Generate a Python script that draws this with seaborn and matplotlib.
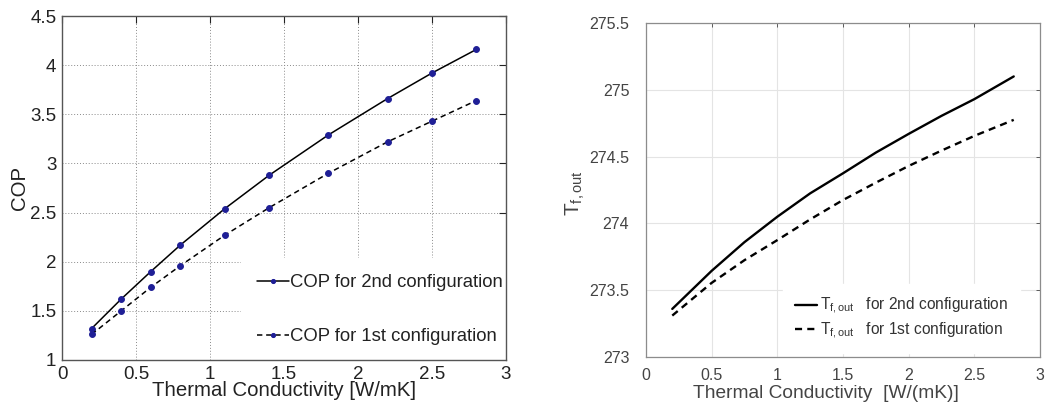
import matplotlib
matplotlib.use("Agg")
import matplotlib.pyplot as plt
import seaborn as sns
import numpy as np
import pandas as pd
from matplotlib.ticker import FormatStrFormatter

# ---------------- data ----------------
cop_k = [0.2, 0.4, 0.6, 0.8, 1.1, 1.4, 1.8, 2.2, 2.5, 2.8]
cop_2nd = [1.32, 1.62, 1.90, 2.17, 2.54, 2.88, 3.29, 3.66, 3.92, 4.16]
cop_1st = [1.26, 1.50, 1.74, 1.96, 2.27, 2.55, 2.90, 3.22, 3.43, 3.64]

tf_k = [0.2, 0.5, 0.75, 1.0, 1.25, 1.5, 1.75, 2.0, 2.25, 2.5, 2.8]
tf_2nd = [273.36, 273.645, 273.86, 274.05, 274.225, 274.375, 274.53, 274.67, 274.805, 274.93, 275.10]
tf_1st = [273.31, 273.555, 273.725, 273.875, 274.03, 274.175, 274.305, 274.43, 274.545, 274.655, 274.775]

x_ticks = [0, 0.5, 1, 1.5, 2, 2.5, 3]
cop_ticks = [1, 1.5, 2, 2.5, 3, 3.5, 4, 4.5]
tf_ticks = [273, 273.5, 274, 274.5, 275, 275.5]

labels_cop = ["COP for 2nd configuration", "COP for 1st configuration"]
labels_tf = [r"$T_{f,out}$   for 2nd configuration", r"$T_{f,out}$   for 1st configuration"]
xlabel_left = "Thermal Conductivity [W/mK]"
xlabel_right = "Thermal Conductivity  [W/(mK)]"
ylabel_left = "COP"
ylabel_right = r"$T_{f,out}$"

# ---------------- style ----------------
sns.set_style("white")
plt.rcParams["font.family"] = ["Liberation Sans", "DejaVu Sans"]
plt.rcParams["mathtext.fontset"] = "custom"
plt.rcParams["mathtext.rm"] = "Liberation Sans"
plt.rcParams["mathtext.it"] = "Liberation Sans"
plt.rcParams["mathtext.default"] = "regular"

fig = plt.figure(figsize=(10.5, 4.12), dpi=100)
ax1 = fig.add_axes([62 / 1050, 1 - 360 / 412, (506 - 62) / 1050, (360 - 16) / 412])
ax2 = fig.add_axes([646 / 1050, 1 - 357 / 412, (1040 - 646) / 1050, (357 - 23) / 412])

# ---------------- left panel ----------------
mk = "#1f1f96"
sns.lineplot(x=cop_k, y=cop_2nd, ax=ax1, color="black", lw=1.1, marker="o",
             markersize=4.2, markerfacecolor=mk, markeredgecolor=mk, label=labels_cop[0])
sns.lineplot(x=cop_k, y=cop_1st, ax=ax1, color="black", lw=1.1, linestyle=(0, (3.5, 2.5)),
             marker="o", markersize=4.2, markerfacecolor=mk, markeredgecolor=mk, label=labels_cop[1])
ax1.set_xlim(0, 3)
ax1.set_ylim(1, 4.5)
ax1.set_xticks(x_ticks)
ax1.set_yticks(cop_ticks)
ax1.xaxis.set_major_formatter(FormatStrFormatter("%g"))
ax1.yaxis.set_major_formatter(FormatStrFormatter("%g"))
ax1.grid(True, linestyle=(0, (1, 2)), color="#8a8a8a", lw=0.7)
ax1.tick_params(direction="in", length=5, width=0.8, labelsize=13.5, colors="#222222",
                top=True, right=True, pad=4)
for s in ax1.spines.values():
    s.set_color("#555555")
    s.set_linewidth(1.0)
    s.set_zorder(3)
ax1.set_xlabel(xlabel_left, fontsize=14.7, color="#222222", labelpad=-1)
ax1.set_ylabel(ylabel_left, fontsize=14.7, color="#222222", labelpad=1)
leg1 = ax1.legend(loc="lower right", bbox_to_anchor=(1.029, -0.006), frameon=True,
                  fontsize=13.3, handlelength=1.7, handletextpad=0.05, labelspacing=2.0,
                  borderpad=0.9, borderaxespad=0.0, markerscale=0.7)
leg1.set_zorder(2.2)
leg1.get_frame().set_facecolor("white")
leg1.get_frame().set_edgecolor("white")
leg1.get_frame().set_alpha(1)
for t in leg1.get_texts():
    t.set_color("#222222")

# ---------------- right panel ----------------
sns.lineplot(x=tf_k, y=tf_2nd, ax=ax2, color="black", lw=1.7, label=labels_tf[0])
sns.lineplot(x=tf_k, y=tf_1st, ax=ax2, color="black", lw=1.7, linestyle=(0, (3.0, 2.2)),
             label=labels_tf[1])
ax2.set_xlim(0, 3)
ax2.set_ylim(273, 275.5)
ax2.set_xticks(x_ticks)
ax2.set_yticks(tf_ticks)
ax2.xaxis.set_major_formatter(FormatStrFormatter("%g"))
ax2.yaxis.set_major_formatter(FormatStrFormatter("%g"))
ax2.grid(True, linestyle="-", color="#e4e4e4", lw=0.8)
ax2.tick_params(direction="in", length=3, width=0.6, labelsize=11.5, colors="#444444",
                top=True, right=True)
ax2.tick_params(axis="y", pad=12)
ax2.tick_params(axis="x", pad=8)
for s in ax2.spines.values():
    s.set_color("#8c8c8c")
    s.set_linewidth(0.9)
    s.set_zorder(3)
ax2.set_xlabel(xlabel_right, fontsize=13.8, color="#444444")
ax2.xaxis.set_label_coords(0.457, -0.085)
ax2.set_ylabel(ylabel_right, fontsize=15, color="#444444")
ax2.yaxis.set_label_coords(-0.15, 0.49)
leg2 = ax2.legend(loc="lower right", bbox_to_anchor=(0.950, 0.012), frameon=True,
                  fontsize=11.2, handlelength=1.4, handletextpad=0.15, labelspacing=0.25,
                  borderpad=0.8, borderaxespad=0.0)
leg2.set_zorder(2.2)
leg2.get_frame().set_facecolor("white")
leg2.get_frame().set_edgecolor("white")
leg2.get_frame().set_alpha(1)
for t in leg2.get_texts():
    t.set_color("#333333")

fig.savefig("out.png", dpi=100)
